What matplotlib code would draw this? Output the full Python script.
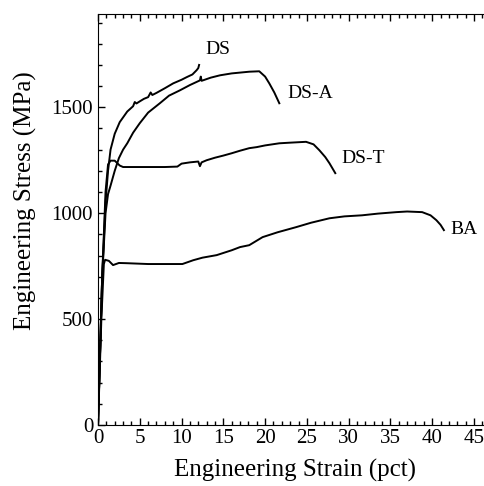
import matplotlib
matplotlib.use("Agg")
import matplotlib.pyplot as plt
from matplotlib.ticker import MultipleLocator

plt.rcParams["font.family"] = ["Liberation Serif", "DejaVu Serif"]

# ==================================
# data
# ==================================

ds_strain = [0, 0.5, 0.9, 1.2, 1.5, 2.0, 2.6, 3.5, 4.2, 4.4, 4.6, 5.0, 5.5, 6.0,
             6.3, 6.5, 7.0, 8.0, 9.0, 10.0, 10.6, 11.3, 11.8, 12.0, 12.1]
ds_stress = [0, 700, 1050, 1200, 1300, 1375, 1430, 1480, 1505, 1525, 1518, 1528, 1540, 1548,
             1570, 1558, 1568, 1590, 1613, 1630, 1642, 1655, 1675, 1685, 1700]

dsa_strain = [0, 0.5, 0.9, 1.2, 1.5, 2.0, 2.5, 3.0, 3.5, 4.2, 5.0, 6.0, 7.4, 8.5,
              9.8, 11.0, 12.2, 12.3, 12.4, 13.5, 14.6, 16.0, 18.1, 19.3, 20.0,
              20.5, 21.1, 21.7]
dsa_stress = [0, 700, 1000, 1090, 1130, 1200, 1260, 1300, 1330, 1380, 1425, 1475, 1519, 1555,
              1580, 1605, 1627, 1645, 1625, 1640, 1651, 1660, 1668, 1670, 1645,
              1613, 1570, 1519]

dst_strain = [0, 0.5, 0.9, 1.2, 1.5, 2.0, 2.6, 3.0, 5.0, 8.0, 9.5, 10.0, 11.0, 12.0,
              12.2, 12.4, 13.0, 14.0, 15.0, 16.0, 17.0, 18.1, 19.0, 20.0, 21.7,
              23.0, 24.9, 25.8, 26.5, 27.2, 27.7, 28.4]
dst_stress = [0, 700, 1100, 1230, 1248, 1248, 1225, 1218, 1218, 1218, 1220, 1234, 1240, 1244,
              1222, 1240, 1250, 1262, 1272, 1283, 1295, 1307, 1312, 1320, 1330,
              1333, 1337, 1325, 1297, 1265, 1236, 1189]

ba_strain = [0, 0.4, 0.7, 0.85, 1.3, 1.8, 2.5, 3.4, 6.0, 10.1, 11.4, 12.5, 14.2, 16.0,
             17.0, 18.1, 19.7, 21.5, 23.7, 25.5, 27.7, 29.5, 31.6, 33.5, 35.7,
             37.0, 38.8, 39.8, 40.5, 41.0, 41.4]
ba_stress = [0, 500, 760, 780, 775, 755, 765, 764, 760, 760, 778, 790, 802, 825,
             840, 849, 887, 910, 934, 955, 976, 985, 990, 998, 1005,
             1008, 1005, 990, 967, 945, 920]

labels = ["DS", "DS-A", "DS-T", "BA"]
label_strain = [14.3, 25.4, 31.7, 43.8]
label_stress = [1774, 1566, 1259, 925]

# ==================================
# plot
# ==================================

fig = plt.figure(figsize=(4.84, 4.86), dpi=100)
ax = fig.add_axes([0.2025, 0.1255, 0.7975, 0.8455])

for xs, ys in [(ds_strain, ds_stress), (dsa_strain, dsa_stress),
               (dst_strain, dst_stress), (ba_strain, ba_stress)]:
    ax.plot(xs, ys, color="black", linewidth=1.4)

for t, x, y in zip(labels, label_strain, label_stress):
    ax.text(x, y, t, fontsize=14, ha="center", va="center")

ax.set_xlim(0, 46.2)
ax.set_ylim(0, 1940)

ax.xaxis.set_major_locator(MultipleLocator(5))
ax.xaxis.set_minor_locator(MultipleLocator(1))
ax.yaxis.set_major_locator(MultipleLocator(500))
ax.yaxis.set_minor_locator(MultipleLocator(100))

ax.tick_params(which="both", direction="in", top=True, right=False, labelsize=15)
ax.tick_params(which="major", length=5, width=1)
ax.tick_params(which="minor", length=3, width=1)
ax.tick_params(axis="x", pad=3)
ax.spines["right"].set_visible(False)

ax.set_xlabel("Engineering Strain (pct)", fontsize=18)
ax.set_ylabel("Engineering Stress (MPa)", fontsize=18)
ax.xaxis.set_label_coords(0.51, -0.083)
ax.yaxis.set_label_coords(-0.158, 0.547)

plt.savefig("out.png", dpi=100)
